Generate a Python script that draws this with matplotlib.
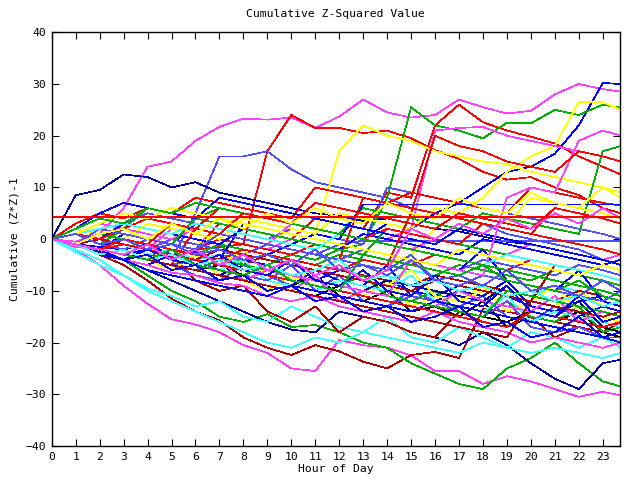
import matplotlib
matplotlib.use("Agg")
import matplotlib.pyplot as plt

hours = list(range(24)) + [23.75]

palette = {
    "r": "#ff0000", "g": "#00b000", "b": "#0000ff", "m": "#ff40ff",
    "c": "#40ffff", "d": "#b00000", "y": "#ffff00", "l": "#5050ff",
    "n": "#0000a0", "k": "#000000",
}

series_colors = [
    "m", "r", "b", "l", "n", "m", "d", "g", "n",
    "r", "g", "y", "y", "m", "l", "r", "g", "b", "l",
    "c", "d", "y", "l", "b", "k", "m", "g", "c", "r",
    "b", "l", "d", "y", "m", "g", "c", "b", "n", "r",
    "y", "l", "d", "k", "g", "m", "b", "r", "c", "b",
    "l", "g", "b", "r", "m", "r", "c", "y", "g", "d",
    "b", "c", "r", "g", "l", "y", "b", "m",
]

series_values = [
    [0, -0.5, 1, 6, 14, 15, 19, 21.7, 23.3, 23.1, 23.5, 21.5, 23.7, 27, 24.5, 23.5, 24, 27, 25.5, 24.3, 24.8, 28, 30, 29, 28.5],
    [0, -1, -2, -1, -3, -3.5, -2, -1.5, -1, 17, 24, 21.5, 21.5, 20.5, 21, 19.5, 17.2, 15.5, 13, 11.5, 12, 10, 8.5, 6, 5],
    [0, -1, -1.5, -2, -1, -3, -2.5, -4, -2, -3, -1, -2, 1, 0, 3, 2, 5, 7, 10, 13, 14, 16.5, 22, 30.2, 30],
    [0, -1, -2, -3, -2, -4, 5, 16, 16, 17, 13.5, 11, 10, 9, 8, 6, 5, 4, 3, 1, 0, -1, -2, -4, -5],
    [0, 8.5, 9.5, 12.5, 12, 10, 11, 9, 8, 7, 6, 5, 4.5, 3.5, 4, 3, 2, 1.5, 0.5, -0.5, -1, -2, -3, -4, -5],
    [0, -2, -5, -9, -12.5, -15.5, -16.5, -18, -20.5, -22, -25, -25.5, -19.5, -20.5, -21, -22.5, -25.5, -25.5, -28, -26.5, -27.5, -29, -30.5, -29.5, -30.2],
    [0, -1, -3, -5, -8, -11.5, -14, -15.7, -19, -21, -22.4, -20.5, -21.7, -23.7, -25, -22.4, -21.8, -23, -13.5, -14, -15, -16, -17, -18, -19],
    [0, -1, -2, -4, -7, -10, -12, -15, -16, -14.5, -17, -16.6, -18, -20, -21, -24, -26, -28, -29, -25, -23, -20, -24, -27.5, -28.5],
    [0, -1, -2.5, -4, -6, -8, -10, -12, -14, -16, -17.5, -18, -14, -15, -16, -18, -19, -20.5, -18, -20.5, -24, -27, -29, -24, -23.3],
    [0, -1, -2, 1, 0, -1, -2, 3, 2, 1, 0, 4, 3, 2, 9, 8, 22, 26, 22.6, 21, 19.8, 18.5, 16, 14, 12.5],
    [0, -1, -2, -3, -2, -4, -5, -3, -4, -5, -3, -4, -2, -1, 8, 25.5, 22, 21, 19.5, 22.5, 22.4, 25, 24, 26, 25.4],
    [0, 1, 3, 2, 1, 0, -1, 1, 0, -1, 2, 1, 17, 22, 20, 19, 17, 16, 15, 14.5, 13, 12, 11, 10, 9],
    [0, -1, -2, -3, -4, -2, -3, -4, -5, -3, -4, -5, -6, -4, -5, -3, 2, 5, 8, 13, 16, 18, 26.5, 26.5, 25],
    [0, 1, 0, -1, -2, 2, 1, 0, -1, -2, 0, -1, -2, 1, 0, 2, 21, 21.5, 21.7, 20, 19, 18, 17, 16, 15],
    [0, 2, 4, 3, 5, 4, 3, 2, 1, 0, 2, 1, 0, -1, 10, 9, 8, 7, 6, 5, 4, 3, 2, 1, 0],
    [0, 3, 5, 4, 6, 5, 8, 7, 6, 5, 4, 10, 9, 8, 7, 9, 8, 7, 6, 5, 10, 9, 8, 7, 6.5],
    [0, 1, -1, 2, 6, 5, 4, 6, 5, 4, 3, 2, 1, 6, 5, 4, 3, 2, 5, 4, 3, 2, 1, 17, 18],
    [0, -1, -2, 1, 0, -1, 3, 2, 1, 0, -1, 1, 0, 6.7, 6.7, 6.7, 6.7, 6.7, 6.7, 6.7, 6.7, 6.7, 6.7, 6.7, 6.7],
    [0, 1, -1, -2, 0, -1, -2, 1, 0, -1, -2, -3, -1, -0.3, -0.3, -0.3, -0.3, -0.3, -0.3, -0.3, -0.3, -0.3, -0.3, -0.3, -0.3],
    [0, -2.5, -5, -7, -9.5, -11, -13, -12, -15, -16, -13, -15, -17, -18, -15, -19, -20, -17, -19, -21, -18, -19, -21, -19, -21],
    [0, -1, -2, -4, -5, -3, -8, -10, -9, -14, -16, -13, -18, -15, -16, -18, -19, -14, -16, -17, -15, -19, -17, -18, -16],
    [0, -1, -2, -3, -4, -6, -3, -7, -8, -10, -7, -9, -10, -11, -8, -13, -11, -12, -9, -14, -12, -13, -10, -13, -14],
    [0, -1, -3, -2, -4, -5, -7, -8, -5, -7, -9, -10, -7, -12, -13, -10, -12, -13, -11, -15, -16, -13, -15, -16, -17],
    [0, -1, -2, -4, -5, -3, -4, -6, -7, -8, -9, -6, -8, -9, -5, -11, -12, -10, -11, -8, -13, -14, -12, -11, -12],
    [0, -1, -2, -3, -4, -5, -6, -5, -7, -8, -9, -7, -11, -12, -10, -14, -13, -15, -12, -17, -15, -16, -14, -18, -19],
    [0, -1.5, -2, -4, -5, -6.5, -7, -8.5, -9, -11, -12, -11, -13, -14, -15, -16, -14, -16, -17, -18, -20, -19, -20, -21, -20],
    [0, -1, -2, 0, -1, -2, -3, -1, -2, -3, -4, -5, -3, -4, -5, -6, -7, -5, -6, -7, -8, -6, -7, -8, -9],
    [0, -1, -2, -1, -3, -2, -4, -3, -5, -6, -4, -5, -6, -7, -8, -6, -7, -8, -9, -10, -11, -9, -10, -11, -12],
    [0, -1, 2, 1, 0, -1, -2, 0, -1, -2, -3, -1, -2, -3, -4, -5, -3, -4, -5, -6, -4, -5, -6, -7, -8],
    [0, -1, -3, -4, -2, -3, -5, -6, -4, -5, -7, -8, -6, -7, -8, -10, -11, -9, -10, -11, -13, -14, -15, -13, -14],
    [0, 1, 0, -1, -2, 0, -1, -2, -3, -1, -2, -3, -4, -2, -3, -4, -5, -6, -4, -5, -6, -7, -5, -6, -7],
    [0, -1, -2, -3, -1, -2, -3, -4, -5, -3, -4, -5, -6, -7, -8, -9, -7, -8, -9, -10, -11, -12, -10, -11, -12],
    [0, 2, 1, 0, 3, 2, 1, 0, 4, 3, 2, 1, 5, 4, 3, 2, 6, 5, 4, 3, 8, 7, 6, 5, 4],
    [0, 1, 3, 2, 1, 0, 2, 1, 0, -1, 3, 2, 1, 0, -1, -2, 0, -1, -2, -3, -1, -2, -3, -4, -3],
    [0, -1, 1, 0, -1, -2, -3, -1, -5, -6, -4, -8, -9, -7, -11, -12, -10, -14, -15, -12, -15, -16, -13, -18, -17],
    [0, -1, -2, -3, -4, -3, -5, -6, -4, -8, -9, -10, -8, -9, -10, -7, -12, -13, -14, -11, -16, -14, -15, -16, -17],
    [0, 1, 0, 3, 2, 1, 0, -1, 2, 1, 0, -1, -2, 1, 0, -1, -2, -3, 0, -1, -2, -3, -4, -5, -4],
    [0, -1, -2, -3, -4, -5, -6, -7, -5, -6, -7, -8, -9, -10, -8, -9, -10, -11, -12, -9, -14, -15, -12, -17, -16],
    [0, -1, -2, -3, -4, -5, 2, 1, 0, -1, -2, -3, -4, 8, 7, 6, 5, 4, 3, 2, 1, 6, 5, 4, 3],
    [0, -1, -2, -1, -2, -3, -4, -5, -2, -7, -8, -6, -7, -8, -9, -6, -11, -12, -10, -11, -12, -9, -14, -15, -16],
    [0, -1, -2, -3, -4, -5, -4, -6, -7, -8, -5, -10, -11, -12, -13, -11, -12, -14, -15, -12, -17, -18, -17, -19, -19],
    [0, -1, 0, -1, -2, -3, -4, -2, -3, -4, -5, -6, -7, -8, -9, -10, -8, -9, -10, -11, -12, -5, -6, -7, -8],
    [0, -1, -2, -3, -4, -5, -6, -7, -8, -9, -10, -11, -9, -10, -11, -12, -13, -14, -15, -16, -14, -15, -16, -17, -18],
    [0, 1, 2, 1, 0, -1, 4, 3, 2, 1, 0, -1, -2, -3, 2, 1, 0, -1, -2, -3, -4, -5, -6, -7, -8],
    [0, -1, -2, -3, -4, -5, -6, -4, -8, -9, -10, -7, -12, -10, -11, -12, -13, -10, -12, -13, -14, -11, -16, -14, -15],
    [0, -1, -2, -4, -6, -7, -8, -9, -10, -11, -9, -10, -11, -12, -13, -14, -12, -13, -14, -15, -16, -17, -18, -19, -20],
    [0, 1, 0, 2, 4, 3, 2, 6, 5, 4, 3, 2, 1, 0, 2, 1, 0, -1, 3, 2, 1, 0, -1, -2, -3],
    [0, -2, -4, -7, -10, -12, -14, -16, -18, -20, -21, -19, -20, -18, -19, -20, -21, -22, -20, -21, -22, -21, -22, -23, -22],
    [0, -1, -2, -3, -4, -2, -3, -4, 3, 2, 1, 0, -1, -2, -3, -4, -5, -6, -2, -8, -9, -10, -6, -12, -13],
    [0, -1, 2, 1, 0, -1, -2, 1, 0, -1, -2, -3, -4, -5, -6, -3, -8, -9, -7, -8, -9, -10, -11, -12, -10],
    [0, -1, -2, -3, -4, -5, -6, -4, -5, -6, -7, -8, -9, -10, -11, -12, -13, -14, -15, -10, -11, -12, -13, -14, -15],
    [0, 2, 5, 7, 6, 5, 4, 8, 7, 6, 5, 4, 3, 2, 1, 0, -1, 2, 1, 0, -1, -2, -3, -4, -5],
    [0, -1, -2, -1, -2, -3, -4, -5, -6, -7, -8, -9, -10, -11, -12, -13, -14, -15, -16, -17, -14, -15, -16, -17, -16],
    [0, -1, -2, -3, -4, -5, -6, -7, -8, -6, -7, -8, -9, -10, -11, -4, -5, -6, -7, 8, 10, 9, 19, 21, 20],
    [0, -1, -2, -3, -1, -2, -3, -4, -2, -3, -4, -5, -6, -4, -5, 5, 20, 18, 17, 15, 14, 13, 17, 16, 15],
    [0, 1, 2, 3, 2, 1, 3, 2, 1, 0, -1, -2, 1, 0, -1, -2, -3, -4, -5, -3, -4, -5, -6, -7, -8],
    [0, 1, 3, 5, 4, 6, 5, 4, 3, 2, 1, 0, -1, -2, -3, -4, -5, -2, -3, -4, -5, -6, -7, -5, -6],
    [0, 2, 4, 3, 6, 5, 7, 6, 5, 4, 3, 2, 1, 0, -1, -2, -3, -4, -5, -6, -7, -8, -9, -10, -11],
    [0, -1, -2, -3, -4, -5, -6, -7, -8, -9, -10, -11, -12, -13, -14, -15, -16, -17, -18, -19, -12, -13, -14, -15, -14],
    [0, -1, -2, -3, -2, -4, -5, -3, -6, -7, -4, -8, -9, -6, -10, -11, -7, -12, -13, -9, -14, -15, -11, -16, -15],
    [0, -1, -3, -2, -4, -3, -5, -4, -6, -5, -7, -6, -4, -8, -7, -9, -8, -10, -9, -11, -10, -12, -11, -13, -12],
    [0, -1, -2, 0, -1, 3, 2, 1, 5, 4, 3, 7, 6, 5, 4, 3, 2, 5, 4, 3, 2, 6, 5, 4, 3],
    [0, -1, -2, -3, -4, -2, -5, -6, -7, -5, -8, -9, -10, -3, -4, -5, -6, -7, -5, -8, -9, -10, -8, -11, -12],
    [0, 1, -1, 0, -2, -1, -3, -2, -4, -3, -5, -2, -6, -5, -7, -4, -8, -7, -9, -6, -10, -9, -11, -8, -10],
    [0, -1, 1, 2, 0, 3, 1, 4, 2, 5, 3, 6, 4, 3, 7, 5, 4, 8, 6, 5, 9, 7, 6, 10, 8],
    [0, -1, -2, -4, -3, -6, -5, -8, -7, -10, -9, -12, -11, -14, -13, -16, -15, -13, -17, -16, -19, -18, -15, -19, -18],
    [0, -1, -2, -3, -1, -4, -2, -5, -3, -6, -4, -7, -5, -8, -6, 2, 0, 3, 1, 4, 2, 5, 3, 6, 4],
]

threshold = 4.3

title = "Cumulative Z-Squared Value"
xlabel = "Hour of Day"
ylabel = "Cumulative (Z*Z)-1"
xticks = list(range(24))
yticks = [-40, -30, -20, -10, 0, 10, 20, 30, 40]

font = "DejaVu Sans Mono"
fs = 8.2

fig = plt.figure(figsize=(6.4, 4.8), dpi=100)
ax = fig.add_axes([0.0808, 0.0708, 0.888, 0.862])

for vals, c in zip(series_values, series_colors):
    ax.plot(hours, vals, color=palette[c], lw=0.5, antialiased=False)

ax.axhline(threshold, color=palette["r"], lw=1.1, antialiased=False)

ax.set_xlim(0, 23.72)
ax.set_ylim(-40, 40)
ax.set_xticks(xticks)
ax.set_yticks(yticks)
ax.tick_params(direction="in", length=5, width=0.8, top=True, right=True,
               labelsize=fs, pad=4)
for lab in ax.get_xticklabels() + ax.get_yticklabels():
    lab.set_fontfamily(font)
for s in ax.spines.values():
    s.set_linewidth(1.0)

ax.set_title(title, fontfamily=font, fontsize=fs, pad=11)
ax.set_xlabel(xlabel, fontfamily=font, fontsize=fs, labelpad=2)
ax.set_ylabel(ylabel, fontfamily=font, fontsize=fs, labelpad=4)

fig.savefig("out.png", dpi=100)
